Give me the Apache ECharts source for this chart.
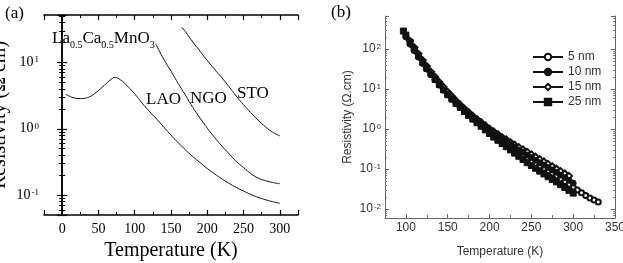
<!DOCTYPE html>
<html>
<head>
<meta charset="utf-8">
<script src="https://cdn.jsdelivr.net/npm/echarts@6/dist/echarts.min.js"></script>
<style>
  html, body { margin: 0; padding: 0; background: #fff; }
  #chart { width: 623px; height: 263px; }
</style>
</head>
<body>
<div id="chart"></div>
<script>
// panel (a): resistivity (ohm cm) vs temperature (K)
const lao = [[5, 3.3], [15, 2.95], [25, 2.85], [35, 2.95], [45, 3.4], [55, 4.2], [65, 5.3], [73, 5.95],
  [80, 5.5], [90, 4.4], [100, 3.35], [110, 2.45], [120, 1.84], [130, 1.41], [140, 1.06], [150, 0.8],
  [160, 0.617], [170, 0.479], [180, 0.38], [190, 0.309], [200, 0.251], [210, 0.209], [220, 0.176],
  [230, 0.15], [240, 0.13], [250, 0.115], [260, 0.102], [270, 0.0923], [280, 0.0851], [290, 0.0794],
  [300, 0.075]]
const ngo = [[129, 19], [140, 11.2], [150, 7.4], [160, 4.8], [170, 3.2], [180, 2.1], [190, 1.45],
  [200, 1.02], [210, 0.74], [220, 0.55], [230, 0.42], [240, 0.32], [250, 0.26], [260, 0.21],
  [270, 0.18], [280, 0.165], [290, 0.155], [300, 0.148]]
const sto = [[165, 34], [170, 29], [180, 20.4], [190, 14.8], [200, 10.7], [210, 7.9], [220, 5.9],
  [230, 4.3], [240, 3.1], [250, 2.3], [260, 1.74], [270, 1.35], [280, 1.07], [290, 0.89], [300, 0.78]]

// panel (b): [T, log10 resistivity]
const nm5 = [[110, 1.98], [115, 1.82], [120, 1.66], [125, 1.51], [130, 1.37], [135, 1.24], [140, 1.11],
  [145, 0.98], [150, 0.86], [155, 0.75], [160, 0.64], [165, 0.54], [170, 0.44], [175, 0.35], [180, 0.26],
  [185, 0.17], [190, 0.09], [195, 0.0], [200, -0.08], [205, -0.16], [210, -0.24], [215, -0.31],
  [220, -0.38], [225, -0.45], [230, -0.52], [235, -0.59], [240, -0.66], [245, -0.73], [250, -0.79],
  [255, -0.86], [260, -0.92], [265, -0.98], [270, -1.04], [275, -1.1], [280, -1.17], [285, -1.24],
  [290, -1.31], [295, -1.38], [300, -1.45], [305, -1.52], [310, -1.59], [315, -1.66], [320, -1.72],
  [325, -1.77], [330, -1.82]]
const nm10 = [[100, 2.3], [105, 2.12], [110, 1.96], [115, 1.8], [120, 1.64], [125, 1.5], [130, 1.36],
  [135, 1.23], [140, 1.1], [145, 0.98], [150, 0.87], [155, 0.76], [160, 0.66], [165, 0.56], [170, 0.47],
  [175, 0.38], [180, 0.29], [185, 0.21], [190, 0.13], [195, 0.05], [200, -0.03], [205, -0.1],
  [210, -0.17], [215, -0.24], [220, -0.31], [225, -0.38], [230, -0.45], [235, -0.52], [240, -0.58],
  [245, -0.65], [250, -0.71], [255, -0.78], [260, -0.84], [265, -0.9], [270, -0.96], [275, -1.02],
  [280, -1.08], [285, -1.15], [290, -1.21], [295, -1.28], [300, -1.35]]
const nm15 = [[105, 2.2], [110, 2.04], [115, 1.88], [120, 1.72], [125, 1.57], [130, 1.43], [135, 1.3],
  [140, 1.17], [145, 1.05], [150, 0.93], [155, 0.82], [160, 0.71], [165, 0.61], [170, 0.51], [175, 0.42],
  [180, 0.33], [185, 0.25], [190, 0.17], [195, 0.09], [200, 0.01], [205, -0.06], [210, -0.13],
  [215, -0.2], [220, -0.26], [225, -0.33], [230, -0.39], [235, -0.45], [240, -0.51], [245, -0.57],
  [250, -0.63], [255, -0.69], [260, -0.75], [265, -0.81], [270, -0.87], [275, -0.93], [280, -0.99],
  [285, -1.05], [290, -1.11], [295, -1.17]]
const nm25 = [[97, 2.45], [100, 2.35], [105, 2.17], [110, 2.0], [115, 1.83], [120, 1.67], [125, 1.52],
  [130, 1.38], [135, 1.24], [140, 1.11], [145, 0.98], [150, 0.86], [155, 0.75], [160, 0.64], [165, 0.54],
  [170, 0.44], [175, 0.34], [180, 0.25], [185, 0.16], [190, 0.07], [195, -0.02], [200, -0.11],
  [205, -0.2], [210, -0.28], [215, -0.36], [220, -0.44], [225, -0.52], [230, -0.6], [235, -0.68],
  [240, -0.76], [245, -0.84], [250, -0.91], [255, -0.98], [260, -1.05], [265, -1.12], [270, -1.19],
  [275, -1.26], [280, -1.32], [285, -1.39], [290, -1.46], [295, -1.53], [300, -1.6]]

const legendNames = ['5 nm', '10 nm', '15 nm', '25 nm']

const serif = 'Liberation Serif'
const sans = 'Liberation Sans'

const chart = echarts.init(document.getElementById('chart'))

function powLabel(v) {
  const e = Math.round(Math.log10(v))
  return '{b|10}{s|' + e + '}'
}

function xAxisA(top) {
  return {
    gridIndex: 0, type: 'value', min: -25, max: 325, splitNumber: 7,
    position: top ? 'top' : 'bottom',
    axisLine: { lineStyle: { color: '#000', width: 1.5 } },
    axisTick: { inside: true, length: 5, lineStyle: { color: '#000', width: 1.2 } },
    minorTick: { show: true, splitNumber: 2, length: 3, lineStyle: { color: '#000', width: 1 } },
    splitLine: { show: false },
    axisLabel: top ? { show: false } : {
      fontFamily: serif, fontSize: 14, color: '#000', margin: 7,
      showMinLabel: false, showMaxLabel: false,
    },
    name: top ? '' : 'Temperature (K)',
    nameLocation: 'middle', nameGap: 23,
    nameTextStyle: { fontFamily: serif, fontSize: 20, color: '#000' },
  }
}

function yAxisA(right) {
  return {
    gridIndex: 0, type: 'log', logBase: 10, min: 0.05, max: 52,
    position: right ? 'right' : 'left',
    axisLine: { show: true, lineStyle: { color: '#000', width: 1.5 } },
    axisTick: { inside: true, length: 5, lineStyle: { color: '#000', width: 1.2 } },
    minorTick: { show: true, splitNumber: 9, length: 3, lineStyle: { color: '#000', width: 1 } },
    splitLine: { show: false },
    axisLabel: right ? { show: false } : {
      color: '#000', margin: 5,
      showMinLabel: false, showMaxLabel: false,
      formatter: powLabel,
      rich: {
        b: { fontFamily: serif, fontSize: 14, lineHeight: 14, color: '#000', verticalAlign: 'bottom' },
        s: { fontFamily: serif, fontSize: 9, lineHeight: 9, color: '#000', verticalAlign: 'top', padding: [0, 0, 0, 1] },
      },
    },
    name: right ? '' : 'Resistivity (Ω cm)',
    nameLocation: 'middle', nameGap: 34,
    nameTextStyle: { fontFamily: serif, fontSize: 20, color: '#000' },
  }
}

function yAxisB(right) {
  return {
    gridIndex: 1, type: 'log', logBase: 10, min: 0.006, max: 670,
    position: right ? 'right' : 'left',
    axisLine: { show: true, lineStyle: { color: '#666', width: 1 } },
    axisTick: { inside: true, length: 4, lineStyle: { color: '#666' } },
    minorTick: { show: true, splitNumber: 9, length: 2, lineStyle: { color: '#777' } },
    splitLine: { show: false },
    axisLabel: right ? { show: false } : {
      color: '#333', margin: 4,
      showMinLabel: false, showMaxLabel: false,
      formatter: powLabel,
      rich: {
        b: { fontFamily: sans, fontSize: 12, lineHeight: 12, color: '#333', verticalAlign: 'bottom' },
        s: { fontFamily: sans, fontSize: 8, lineHeight: 8, color: '#333', verticalAlign: 'top', padding: [0, 0, 0, 1] },
      },
    },
    name: right ? '' : 'Resistivity (Ω.cm)',
    nameLocation: 'middle', nameGap: 31,
    nameTextStyle: { fontFamily: sans, fontSize: 12, color: '#333' },
  }
}

const curveStyle = { color: '#111', width: 1 }

function filmSeries(name, pts, symbol, size, filled) {
  return {
    name, type: 'line', xAxisIndex: 2, yAxisIndex: 2,
    data: pts.map(([t, e]) => [t, Math.pow(10, e)]),
    symbol, symbolSize: size, showAllSymbol: true,
    lineStyle: { color: '#111', width: filled ? 3 : 1 },
    itemStyle: { color: '#111', borderColor: filled ? '#111' : '#555', borderWidth: 1 },
    emphasis: { disabled: true },
  }
}

chart.setOption({
  animation: false,
  grid: [
    { left: 44, top: 15, width: 254, height: 200, outerBoundsMode: 'none' },
    { left: 385, top: 16, width: 230, height: 202, outerBoundsMode: 'none' },
  ],
  xAxis: [
    xAxisA(false),
    xAxisA(true),
    {
      gridIndex: 1, type: 'value', min: 75, max: 350,
      axisLine: { lineStyle: { color: '#666', width: 1 } },
      axisTick: { inside: true, length: 4, lineStyle: { color: '#666' } },
      minorTick: { show: true, splitNumber: 2, length: 3, lineStyle: { color: '#777' } },
      splitLine: { show: false },
      axisLabel: { fontFamily: sans, fontSize: 12, color: '#333', margin: 4, showMinLabel: false },
      name: 'Temperature (K)', nameLocation: 'middle', nameGap: 28,
      nameTextStyle: { fontFamily: sans, fontSize: 12, color: '#333' },
    },
  ],
  yAxis: [yAxisA(false), yAxisA(true), yAxisB(false), yAxisB(true)],
  legend: {
    data: legendNames, orient: 'vertical', left: 527, top: 46,
    itemWidth: 30, itemHeight: 8, itemGap: 3,
    textStyle: { fontFamily: sans, fontSize: 12, color: '#333' },
  },
  graphic: [
    { type: 'text', left: 5, top: 5, style: { text: '(a)', fontFamily: serif, fontSize: 17, fill: '#000' } },
    { type: 'text', left: 331, top: 4, style: { text: '(b)', fontFamily: serif, fontSize: 17, fill: '#000' } },
    {
      type: 'text', left: 52, top: 30,
      style: {
        text: '{b|La}{s|0.5}{b|Ca}{s|0.5}{b|MnO}{s|3}',
        rich: {
          b: { fontFamily: serif, fontSize: 17, lineHeight: 17, fill: '#000', verticalAlign: 'top' },
          s: { fontFamily: serif, fontSize: 10, lineHeight: 10, fill: '#000', verticalAlign: 'top', padding: [10, 0, 0, 0] },
        },
      },
    },
    { type: 'text', left: 146, top: 91, style: { text: 'LAO', fontFamily: serif, fontSize: 17, fill: '#000' } },
    { type: 'text', left: 190, top: 90, style: { text: 'NGO', fontFamily: serif, fontSize: 17, fill: '#000' } },
    { type: 'text', left: 237, top: 85, style: { text: 'STO', fontFamily: serif, fontSize: 17, fill: '#000' } },
  ],
  series: [
    { name: 'LAO', type: 'line', xAxisIndex: 0, yAxisIndex: 0, data: lao, smooth: 0.4, showSymbol: false, lineStyle: curveStyle },
    { name: 'NGO', type: 'line', xAxisIndex: 0, yAxisIndex: 0, data: ngo, smooth: 0.4, showSymbol: false, lineStyle: curveStyle },
    { name: 'STO', type: 'line', xAxisIndex: 0, yAxisIndex: 0, data: sto, smooth: 0.4, showSymbol: false, lineStyle: curveStyle },
    filmSeries('5 nm', nm5, 'emptyCircle', 5, false),
    filmSeries('15 nm', nm15, 'emptyDiamond', 6, false),
    filmSeries('10 nm', nm10, 'circle', 6, true),
    filmSeries('25 nm', nm25, 'rect', 6, true),
  ],
})

window.addEventListener('resize', () => chart.resize())
</script>
</body>
</html>
